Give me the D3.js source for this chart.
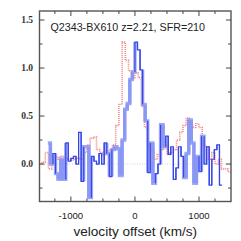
<!DOCTYPE html>
<html lang="en">
<head>
  <meta charset="UTF-8">
  <title>Q2343-BX610 spectrum</title>
  <script src="https://d3js.org/d3.v7.min.js"></script>
  <style>
    body { margin: 0; padding: 0; background: #fff; }
    svg { display: block; }
  </style>
</head>
<body>
  <div id="chart"></div>
  <script>
    // blue spectrum: 40 km/s channels starting at -1360 km/s
    const blueStart = -1360;
    const blueStep = 40;
    const blueFlux = [0.22, 0.0, 0.11, -0.1, -0.16, 0.05, -0.16, 0.22, 0.03, 0.06,
      0.08, 0.0, 0.33, -0.18, 0.18, 0.18, -0.35, 0.08, 0.03, 0.0,
      0.11, 0.0, 0.22, 0.11, -0.13, 0.15, 0.18, 0.16, -0.12, 0.25,
      0.57, 0.63, 0.88, 0.96, 1.27, 1.19, 0.98, 0.62, 0.45, -0.09,
      0.22, -0.2, -0.1, 0.0, 0.41, 0.18, 0.29, 0.1, 0.18, -0.16,
      -0.04, 0.18, 0.08, -0.14, 0.11, 0.46, 0.22, -0.2, 0.08, -0.08,
      0.29, 0.0, 0.18, -0.22, 0.05, 0.15, 0.2, -0.22];
    // 1 = drawn as the wide pale trace
    const blueWide = [1, 1, 0, 1, 1, 1, 1, 0, 0, 0,
      0, 0, 0, 0, 1, 1, 1, 0, 0, 0,
      0, 0, 0, 1, 0, 1, 1, 1, 1, 1,
      1, 1, 1, 1, 0, 0, 0, 1, 1, 0,
      1, 1, 0, 0, 1, 1, 0, 0, 0, 0,
      0, 0, 0, 1, 1, 1, 1, 1, 1, 0,
      1, 0, 0, 0, 0, 0, 0, 0];

    // red comparison spectrum: 50 km/s channels starting at -1500 km/s
    const redStart = -1500;
    const redStep = 50;
    const redFlux = [0.0, 0.02, 0.12, -0.05, 0.0, 0.05, 0.07, 0.08, 0.06, 0.05,
      0.04, 0.05, 0.06, 0.05, 0.12, 0.2, 0.27, 0.28, 0.15, 0.12,
      0.1, 0.12, 0.15, 0.2, 0.4, 0.62, 1.27, 1.08, 0.97, 0.9,
      0.95, 0.9, 0.6, 0.38, 0.2, 0.15, 0.05, 0.1, 0.15, 0.2,
      0.1, 0.12, 0.15, 0.25, 0.33, 0.4, 0.48, 0.42, 0.38, 0.42,
      0.38, 0.2, 0.18, 0.05, 0.12, 0.0, 0.05, -0.05, -0.05, -0.08];

    const xTicks = [-1000, 0, 1000];
    const yTicks = [0.0, 0.5, 1.0, 1.5];
    const title = "Q2343-BX610 z=2.21, SFR=210";

    const width = 241, height = 241;
    const margin = {top: 11, right: 10, bottom: 39.5, left: 39.5};

    const svg = d3.select("#chart").append("svg")
      .attr("width", width)
      .attr("height", height);

    const x = d3.scaleLinear().domain([-1490, 1500]).range([margin.left, width - margin.right]);
    const y = d3.scaleLinear().domain([-0.39, 1.594]).range([height - margin.bottom, margin.top]);

    svg.append("clipPath").attr("id", "clip")
      .append("rect")
      .attr("x", margin.left).attr("y", margin.top)
      .attr("width", x.range()[1] - x.range()[0])
      .attr("height", y.range()[0] - y.range()[1]);

    const plot = svg.append("g").attr("clip-path", "url(#clip)");

    // zero line
    plot.append("line")
      .attr("x1", x.range()[0]).attr("x2", x.range()[1])
      .attr("y1", y(0)).attr("y2", y(0))
      .attr("stroke", "#c8cce0")
      .attr("stroke-width", 0.8)
      .attr("stroke-dasharray", "1,1.5");

    const step = d3.line().x(d => x(d[0])).y(d => y(d[1])).curve(d3.curveStepAfter);

    // red dotted step
    const redPts = redFlux.map((f, i) => [redStart + i * redStep, f]);
    redPts.push([redStart + redFlux.length * redStep, redFlux[redFlux.length - 1]]);
    plot.append("path")
      .attr("d", step(redPts))
      .attr("fill", "none")
      .attr("stroke", "#f25a5a")
      .attr("stroke-width", 1.6)
      .attr("stroke-dasharray", "1,1")
      .attr("opacity", 0.75);

    // blue step, piece by piece
    function piece(i) {
      const x0 = blueStart + i * blueStep, x1 = x0 + blueStep;
      const pts = [];
      if (i > 0) pts.push([x0, blueFlux[i - 1]]);
      pts.push([x0, blueFlux[i]], [x1, blueFlux[i]]);
      if (i < blueFlux.length - 1) pts.push([x1, blueFlux[i + 1]]);
      return d3.line().x(d => x(d[0])).y(d => y(d[1]))(pts);
    }

    const idx = d3.range(blueFlux.length);
    plot.append("g").selectAll("path")
      .data(idx.filter(i => blueWide[i]))
      .join("path")
      .attr("d", piece)
      .attr("fill", "none")
      .attr("stroke", "#8694f4")
      .attr("stroke-opacity", 0.8)
      .attr("stroke-width", 3.4);

    plot.append("g").selectAll("path")
      .data(idx.filter(i => !blueWide[i]))
      .join("path")
      .attr("d", piece)
      .attr("fill", "none")
      .attr("stroke", "#3646ea")
      .attr("stroke-width", 1.2);

    // frame
    svg.append("rect")
      .attr("x", x.range()[0]).attr("y", y.range()[1])
      .attr("width", x.range()[1] - x.range()[0])
      .attr("height", y.range()[0] - y.range()[1])
      .attr("fill", "none")
      .attr("stroke", "#555")
      .attr("stroke-width", 1.4);

    // ticks on all four sides, pointing inward
    const ax = svg.append("g").attr("stroke", "#444").attr("stroke-width", 1);
    const xMinor = d3.range(-1250, 1500, 250);
    xMinor.forEach(v => {
      const len = xTicks.includes(v) ? 5 : 3;
      ax.append("line").attr("x1", x(v)).attr("x2", x(v))
        .attr("y1", y.range()[0]).attr("y2", y.range()[0] - len);
      ax.append("line").attr("x1", x(v)).attr("x2", x(v))
        .attr("y1", y.range()[1]).attr("y2", y.range()[1] + len);
    });
    const yMinor = d3.range(-0.25, 1.6, 0.25);
    yMinor.forEach(v => {
      const len = yTicks.some(t => Math.abs(t - v) < 1e-6) ? 5 : 3;
      ax.append("line").attr("y1", y(v)).attr("y2", y(v))
        .attr("x1", x.range()[0]).attr("x2", x.range()[0] + len);
      ax.append("line").attr("y1", y(v)).attr("y2", y(v))
        .attr("x1", x.range()[1]).attr("x2", x.range()[1] - len);
    });

    // tick labels
    svg.append("g").selectAll("text")
      .data(yTicks)
      .join("text")
      .attr("x", 33)
      .attr("y", d => y(d) + 3.2)
      .attr("text-anchor", "end")
      .attr("font-family", "Liberation Serif, serif")
      .attr("font-size", 9.5)
      .attr("font-weight", "bold")
      .attr("fill", "#333")
      .text(d => d.toFixed(1));

    svg.append("g").selectAll("text")
      .data(xTicks)
      .join("text")
      .attr("x", d => x(d))
      .attr("y", 218.5)
      .attr("text-anchor", "middle")
      .attr("font-family", "Liberation Sans, Arial, sans-serif")
      .attr("font-size", 9.6)
      .attr("fill", "#222")
      .text(d => d);

    svg.append("text")
      .attr("x", (x.range()[0] + x.range()[1]) / 2)
      .attr("y", 236)
      .attr("text-anchor", "middle")
      .attr("font-family", "Liberation Sans, Arial, sans-serif")
      .attr("font-size", 13.6)
      .attr("fill", "#222")
      .text("velocity offset (km/s)");

    svg.append("text")
      .attr("x", 50.5)
      .attr("y", 30.5)
      .attr("font-family", "Liberation Sans, Arial, sans-serif")
      .attr("font-size", 10.7)
      .attr("fill", "#222")
      .text(title);
  </script>
</body>
</html>
